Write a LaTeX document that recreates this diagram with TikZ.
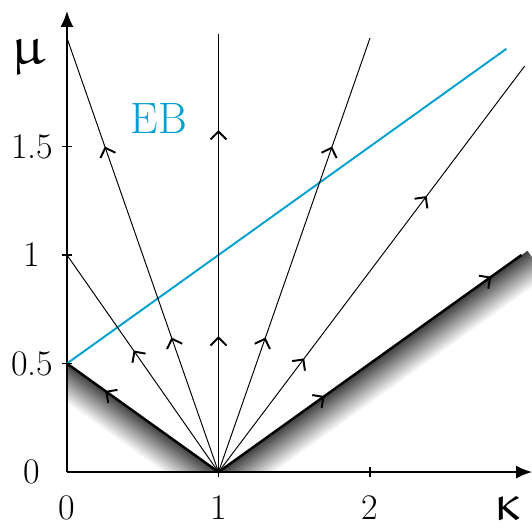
\documentclass[tikz,border=0pt]{standalone}
\usepackage{upgreek}
\usepackage{xcolor}
\usetikzlibrary{arrows.meta,decorations.markings}
\definecolor{ebblue}{RGB}{0,160,210}

\begin{document}
\begin{tikzpicture}[x=3.03cm,y=4.34cm,>=Latex]
  \tikzstyle{axis}=[line width=1.1pt,-{Latex[length=3.2mm,width=2.6mm]}]
  \tikzstyle{ticklbl}=[font=\fontsize{20.5}{24}\selectfont,inner sep=0pt]
  \tikzstyle{orbit}=[line width=0.55pt]
  \tikzstyle{border}=[line width=1.4pt]
  \tikzset{flow/.style={postaction={decorate,decoration={markings,
    mark=at position #1 with {\arrow{Straight Barb[length=1.6mm,width=3.2mm,line width=1.1pt]}}}}}}
  \useasboundingbox (-0.442,-0.2535) rectangle (3.069,2.175);

  % points
  \coordinate (v) at (1,0);
  \coordinate (a) at (0,0.5);
  \coordinate (b) at (0,1);
  \coordinate (c) at (0,2);
  \coordinate (top) at (1,2.02);
  \coordinate (d) at (2,2);
  \coordinate (e) at (3.02,1.87);
  \coordinate (f) at (3,1);
  \coordinate (g) at (2.9,1.95);

  % shading under the borders
  \begin{scope}
    \clip (0,0) rectangle (3.1,2.2);
    \begin{scope}[transform canvas={shift={(a)},rotate=-35.6}]
      \shade[top color=black!75,bottom color=white] (0cm,-0.65cm) rectangle (3.75cm,0cm);
    \end{scope}
    \begin{scope}[transform canvas={shift={(v)},rotate=35.6}]
      \shade[top color=black!75,bottom color=white] (0cm,-0.65cm) rectangle (7.6cm,0cm);
    \end{scope}
  \end{scope}

  % axes
  \draw[axis] (0,0) -- (3.07,0);
  \draw[axis] (0,0) -- (0,2.125);
  \foreach \y in {0.5,1,1.5}
    \draw[line width=0.9pt] (-0.033,\y) -- (0.033,\y);
  \foreach \x in {1,2}
    \draw[line width=0.9pt] (\x,-0.024) -- (\x,0.024);
  \foreach \y/\t in {0/0,0.5/0.5,1/1,1.5/1.5}
    \node[ticklbl] at (-0.23,\y) {\t};
  \foreach \x in {0,1,2}
    \node[ticklbl] at (\x,-0.165) {\x};
  \node[font=\fontsize{31}{33}\selectfont] (mulbl) at (-0.257,1.912) {$\upmu$};
  \node[font=\fontsize{29}{31}\selectfont,inner sep=0pt] (kaplbl) at (2.91,-0.17) {$\upkappa$};

  % EB line
  \draw[ebblue,line width=1.1pt] (a) -- (g);
  \node[ebblue,font=\fontsize{25}{28}\selectfont] (eb) at (0.607,1.63) {EB};

  % trajectories
  \draw[orbit,flow=0.31,flow=0.75] (v) -- (c);
  \draw[orbit,flow=0.56] (v) -- (b);
  \draw[orbit,flow=0.31,flow=0.78] (v) -- (top);
  \draw[orbit,flow=0.31,flow=0.75] (v) -- (d);
  \draw[orbit,flow=0.28,flow=0.68] (v) -- (e);
  \draw[border,flow=0.75] (v) -- (a);
  \draw[border,flow=0.35,flow=0.9] (v) -- (f);
\end{tikzpicture}
\end{document}
